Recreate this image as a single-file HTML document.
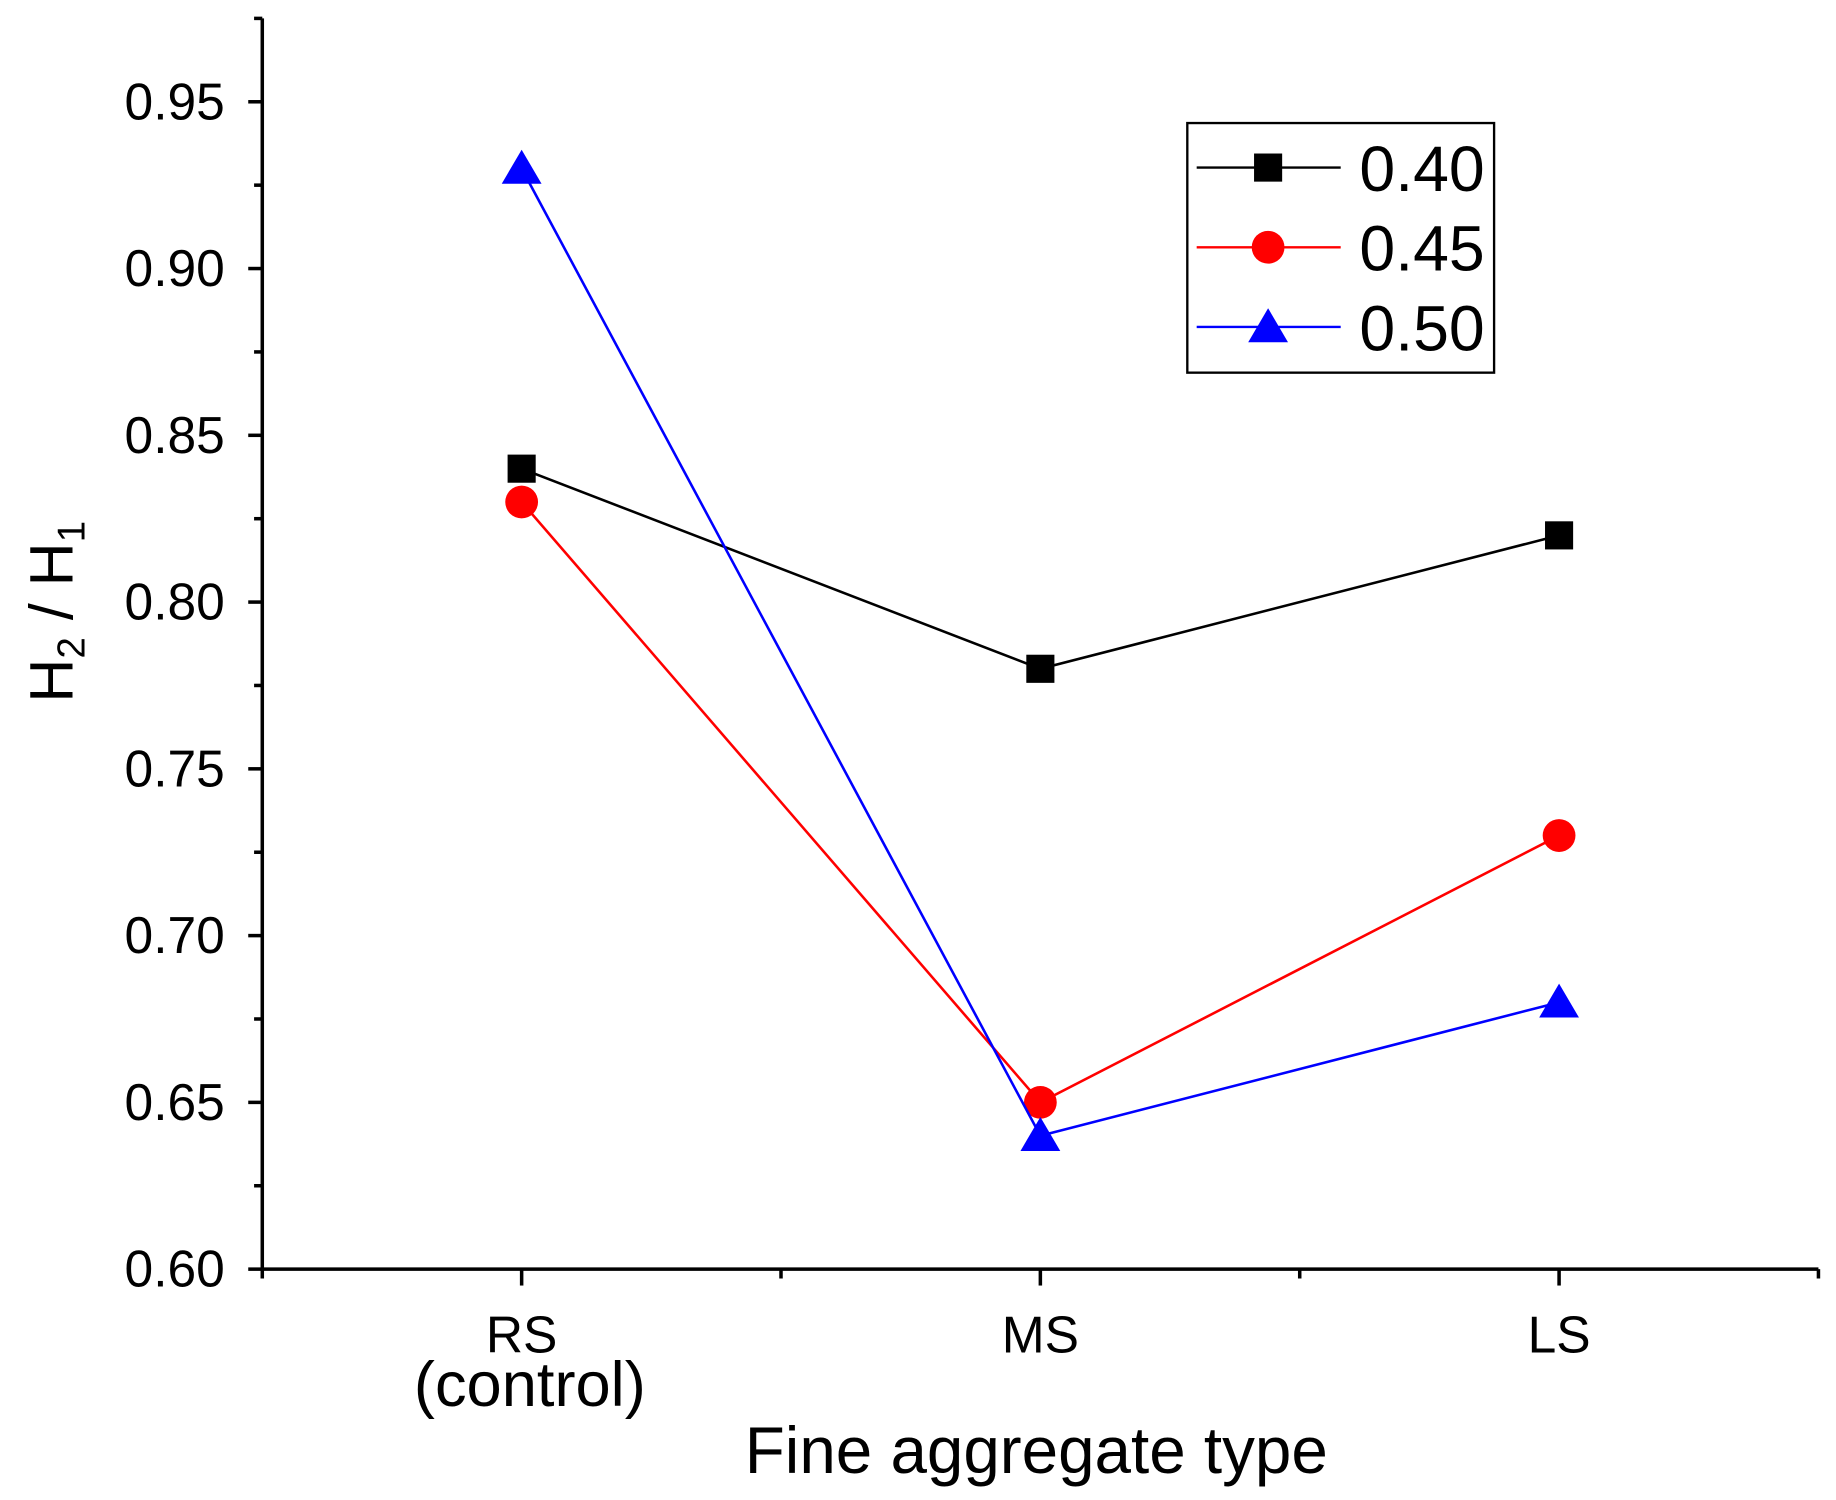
<!DOCTYPE html>
<html><head><meta charset="utf-8"><style>
html,body{margin:0;padding:0;background:#fff;}
svg{display:block;font-family:"Liberation Sans",Arial,sans-serif;}
</style></head><body>
<svg id="chart" width="1836" height="1500" viewBox="0 0 1568 1280" preserveAspectRatio="none" xmlns="http://www.w3.org/2000/svg">
<rect width="1568" height="1280" fill="#fff"/>
<g id="axes"></g>
<g id="series"></g>
<g id="legend">
  <rect x="1014" y="105" width="262" height="213" fill="#fff" stroke="#000" stroke-width="2"/>
</g>
<text x="885" y="1257" font-size="56" text-anchor="middle">Fine aggregate type</text>
<text transform="translate(62,522) rotate(-90)" font-size="52" text-anchor="middle">H<tspan font-size="33" dy="10">2</tspan><tspan dy="-10"> / H</tspan><tspan font-size="33" dy="10">1</tspan></text>
</svg>
<script>
const categories = ["RS", "MS", "LS"];
const seriesNames = ["0.40", "0.45", "0.50"];
const values040 = [0.84, 0.78, 0.82];
const values045 = [0.83, 0.65, 0.73];
const values050 = [0.93, 0.64, 0.68];
const yTicks = ["0.60", "0.65", "0.70", "0.75", "0.80", "0.85", "0.90", "0.95"];

const X0 = 224, X1 = 1553, Y0 = 1083, YT = 15.7;
const yMin = 0.60, yMax = 0.975;
function yScale(v){ return Y0 - (v - yMin) / (yMax - yMin) * (Y0 - YT); }
function xScale(i){ return X0 + (i + 0.5) * (X1 - X0) / categories.length; }
const NS = "http://www.w3.org/2000/svg";
function mk(tag, attrs, parent){
  const e = document.createElementNS(NS, tag);
  for (const k in attrs) e.setAttribute(k, attrs[k]);
  parent.appendChild(e);
  return e;
}
const axes = document.getElementById("axes");
const yAxis = mk("line", {x1:X0, y1:Y0, x2:X0, y2:YT, stroke:"#000", "stroke-width":3}, axes);


const xAxis = mk("line", {x1:X0, y1:Y0, x2:X1, y2:Y0, stroke:"#000", "stroke-width":3}, axes);


yTicks.forEach(t => {
  const v = parseFloat(t), y = yScale(v);
  mk("line", {x1:X0-12, y1:y, x2:X0, y2:y, stroke:"#000", "stroke-width":3}, axes);
  const lbl = mk("text", {x:X0-32, y:y+15, "font-size":44, "text-anchor":"end"}, axes);
  lbl.textContent = t;
  
  
  const ym = yScale(v + 0.025);
  if (ym >= YT) mk("line", {x1:X0-7, y1:ym, x2:X0, y2:ym, stroke:"#000", "stroke-width":3}, axes);
});
for (let i = 0; i <= categories.length; i++) {
  const x = X0 + i * (X1 - X0) / categories.length;
  mk("line", {x1:x, y1:Y0, x2:x, y2:Y0+8, stroke:"#000", "stroke-width":3}, axes);
}
categories.forEach((c, i) => {
  const x = xScale(i);
  mk("line", {x1:x, y1:Y0, x2:x, y2:Y0+14, stroke:"#000", "stroke-width":3}, axes);
  const lbl = mk("text", {x:x, y:Y0+71, "font-size":44, "text-anchor":"middle"}, axes);
  lbl.textContent = c;
  
  
  if (i === 0) {
    const sub = mk("text", {x:x+7, y:Y0+117, "font-size":54, "text-anchor":"middle"}, axes);
    sub.textContent = "(control)";
    
    
  }
});
const colors = ["#000", "#ff0000", "#0000ff"];
const shapes = ["square", "circle", "triangle"];
const allValues = [values040, values045, values050];
function marker(shape, x, y, color, parent){
  if (shape === "square") return mk("rect", {x:x-12, y:y-12, width:24, height:24, fill:color}, parent);
  if (shape === "circle") return mk("circle", {cx:x, cy:y, r:14, fill:color}, parent);
  return mk("polygon", {points:`${x},${y-16} ${x-17},${y+13} ${x+17},${y+13}`, fill:color}, parent);
}
const sg = document.getElementById("series");
allValues.forEach((vals, s) => {
  const g = mk("g", {}, sg);
  
  
  const pts = vals.map((v, i) => xScale(i) + "," + yScale(v)).join(" ");
  mk("polyline", {points:pts, fill:"none", stroke:colors[s], "stroke-width":2.2}, g);
  vals.forEach((v, i) => {
    const m = marker(shapes[s], xScale(i), yScale(v), colors[s], g);
    
    
  });
});
const lg = document.getElementById("legend");
seriesNames.forEach((n, s) => {
  const y = 143 + s * 68;
  const g = mk("g", {}, lg);
  
  
  mk("line", {x1:1022, y1:y, x2:1145, y2:y, stroke:colors[s], "stroke-width":2}, g);
  marker(shapes[s], 1083, y, colors[s], g);
  const t = mk("text", {x:1161, y:y+20, "font-size":55}, g);
  t.textContent = n;
});
</script>
</body></html>
